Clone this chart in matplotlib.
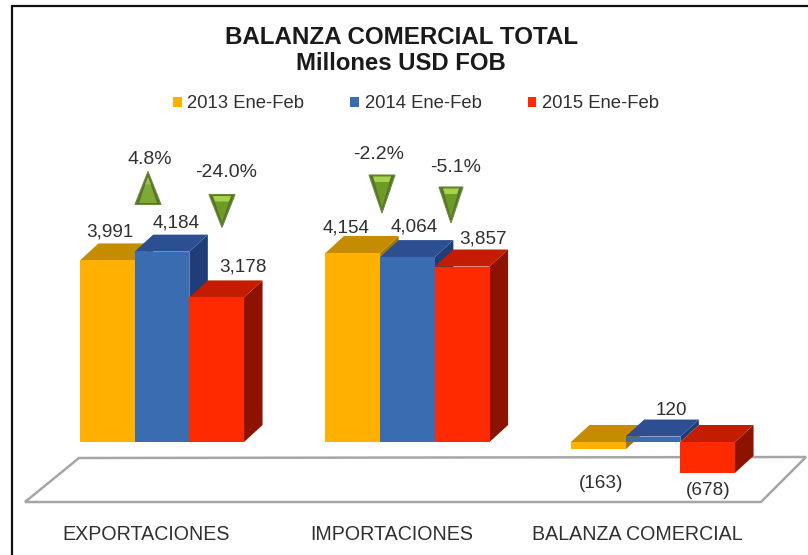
import matplotlib
matplotlib.use("Agg")
import matplotlib.pyplot as plt
from matplotlib.lines import Line2D
from matplotlib.patches import Polygon

plt.rcParams['font.family'] = ['Liberation Sans', 'DejaVu Sans']

# ---------- data ----------
categories = ["EXPORTACIONES", "IMPORTACIONES", "BALANZA COMERCIAL"]
series_names = ["2013 Ene-Feb", "2014 Ene-Feb", "2015 Ene-Feb"]
values_2013 = [3991, 4154, -163]
values_2014 = [4184, 4064, 120]
values_2015 = [3178, 3857, -678]
labels_2013 = ["3,991", "4,154", "(163)"]
labels_2014 = ["4,184", "4,064", "120"]
labels_2015 = ["3,178", "3,857", "(678)"]
change_labels = ["4.8%", "-24.0%", "-2.2%", "-5.1%"]
change_values = [4.8, -24.0, -2.2, -5.1]

# ---------- geometry ----------
W, H = 808, 555
PITCH = 245.5          # px per category
X0 = 162.0             # px of category 0 centre
Y0 = 442.0             # px of value zero
PXV = 0.0455           # px per value unit
BW = 54.7 / PITCH
DX = 18.5 / PITCH
DY = 17.0 / PXV

COL_FRONT = ["#FFB000", "#3A6CB2", "#FF2A00"]
COL_TOP = ["#C68C00", "#2C4F92", "#C41C00"]
COL_SIDE = ["#A87800", "#1F3E78", "#8E1200"]
TEXT = "#303030"

fig = plt.figure(figsize=(W / 100, H / 100), dpi=100, facecolor="white")
ax = fig.add_axes([0, 0, 1, 1])
ax.set_xlim(-X0 / PITCH, (W - X0) / PITCH)
ax.set_ylim((Y0 - H) / PXV, Y0 / PXV)
ax.axis("off")


def px(x, y):
    """Pixel (from top-left) to axes fraction, for decoration only."""
    return x / W, 1 - y / H


# outer frame: only the top and left edges are visible
fx, fy = zip(px(11.5, H), px(11.5, 6), px(W, 6))
ax.add_line(Line2D(fx, fy, transform=ax.transAxes, color="#111111", lw=1.6, zorder=0,
                   solid_joinstyle="miter"))

# floor slab
floor = [px(79, 458), px(806, 457), px(761, 502), px(25, 502)]
ax.add_patch(Polygon(floor, closed=True, transform=ax.transAxes, fc="white",
                     ec="#A6A6A6", lw=1.8, zorder=1))

all_series = [values_2013, values_2014, values_2015]
all_labels = [labels_2013, labels_2014, labels_2015]
label_off = [
    [(3, 28), (-7, 25), (3, -34)],
    [(14, 29), (7, 30), (18, 26)],
    [(26, 30), (21, 28), (0, -18)],
]
legend_handles = []
for s, vals in enumerate(all_series):
    for c, v in enumerate(vals):
        left = c - 1.5 * BW + s * BW
        right = left + BW
        top = max(v, 0)
        bot = min(v, 0)
        z = 2 + s + c * 3
        b = ax.bar(left, v, width=BW, align="edge", color=COL_FRONT[s],
                   zorder=z + 0.2, label=series_names[s] if c == 0 else None)
        if c == 0:
            legend_handles.append(b)
        ax.add_patch(Polygon([(left, top), (right, top), (right + DX, top + DY), (left + DX, top + DY)],
                             closed=True, fc=COL_TOP[s], ec="none", zorder=z + 0.1))
        ax.add_patch(Polygon([(right, top), (right + DX, top + DY), (right + DX, bot + DY), (right, bot)],
                             closed=True, fc=COL_SIDE[s], ec="none", zorder=z))
        ax.annotate(all_labels[s][c], xy=((left + right) / 2, v), xytext=label_off[s][c],
                    textcoords="offset pixels", ha="center", va="center",
                    fontsize=13.6, color=TEXT, zorder=30)

# category labels
for c, name in enumerate(categories):
    ax.annotate(name, xy=(c, 0), xytext=(-16, -92.5),
                textcoords="offset pixels", ha="center", va="center",
                fontsize=14.1, color=TEXT, zorder=30)

# change arrows and their labels
arrow_px = [(148, 188, 26, 33), (222, 211, 26, 33), (382, 194, 26, 38), (451, 205, 24, 36)]
text_px = [(150, 159), (226, 173), (379, 154), (456, 167)]
for val, lab, (ax_x, ax_y, w, h), (tx, ty) in zip(change_values, change_labels, arrow_px, text_px):
    sign = 1 if val > 0 else -1
    tip = px(ax_x, ax_y - sign * h / 2)
    b1 = px(ax_x - w / 2, ax_y + sign * h / 2)
    b2 = px(ax_x + w / 2, ax_y + sign * h / 2)
    ax.add_patch(Polygon([tip, b1, b2], closed=True, transform=ax.transAxes,
                         fc="#55752A", ec="#6E8A3E", lw=0.8, zorder=25))
    # inner lighter body
    ax.add_patch(Polygon([px(ax_x, ax_y - sign * (h / 2 - 5)),
                          px(ax_x - w / 2 + 4, ax_y + sign * (h / 2 - 1.5)),
                          px(ax_x + w / 2 - 4, ax_y + sign * (h / 2 - 1.5))],
                         closed=True, transform=ax.transAxes,
                         fc="#7FA836" if sign > 0 else "#6E9A26", ec="none", zorder=26))
    # highlight at the top of the arrow
    if sign < 0:
        ax.add_patch(Polygon([px(ax_x - w / 2 + 4, ax_y - h / 2 + 1.5), px(ax_x + w / 2 - 4, ax_y - h / 2 + 1.5),
                              px(ax_x + w / 2 - 6, ax_y - h / 2 + 7), px(ax_x - w / 2 + 6, ax_y - h / 2 + 7)],
                             closed=True, transform=ax.transAxes, fc="#A5D24A", ec="none", zorder=27))
    else:
        ax.add_patch(Polygon([px(ax_x, ax_y - h / 2 + 6), px(ax_x - 3, ax_y - h / 2 + 13), px(ax_x + 3, ax_y - h / 2 + 13)],
                             closed=True, transform=ax.transAxes, fc="#98BE5A", ec="none", zorder=27))
    ax.text(*px(tx, ty), lab, transform=ax.transAxes, ha="center", va="center",
            fontsize=14, color=TEXT, zorder=30)

# title
ax.text(*px(401.5, 37), "BALANZA COMERCIAL TOTAL", transform=ax.transAxes, ha="center", va="center",
        fontsize=17.4, fontweight="bold", color="#1A1A1A")
ax.text(*px(400.5, 63), "Millones USD FOB", transform=ax.transAxes, ha="center", va="center",
        fontsize=17.2, fontweight="bold", color="#1A1A1A")

# legend
ax.legend(handles=legend_handles, labels=series_names, ncol=3, frameon=False,
          loc="center", bbox_to_anchor=px(416, 104), fontsize=13.3, labelcolor=TEXT,
          handlelength=0.47, handleheight=0.47, handletextpad=0.3, columnspacing=2.5,
          borderpad=0, borderaxespad=0)

fig.savefig("out.png", dpi=100)
